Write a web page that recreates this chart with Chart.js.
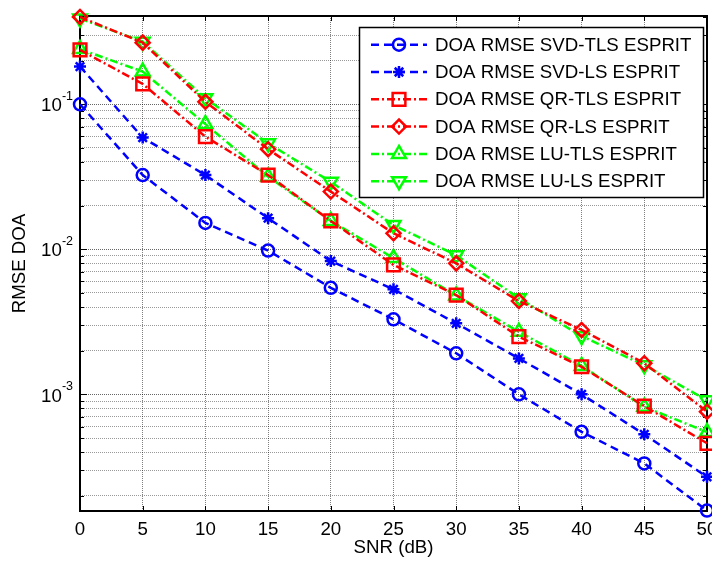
<!DOCTYPE html>
<html><head><meta charset="utf-8">
<script src="https://cdn.jsdelivr.net/npm/chart.js@4.4.1/dist/chart.umd.min.js"></script>
<style>html,body{margin:0;padding:0;background:#fff}</style>
</head><body>
<canvas id="c" width="712" height="562" style="display:block;width:712px;height:562px"></canvas>
<script>
const snr = [0, 5, 10, 15, 20, 25, 30, 35, 40, 45, 50];
const svdTls = [0.100, 0.0325, 0.0152, 0.0098, 0.00543, 0.00329, 0.00192, 0.00100, 0.000552, 0.000334, 0.000158];
const svdLs  = [0.182, 0.0589, 0.0325, 0.0164, 0.0083, 0.0053, 0.00309, 0.00177, 0.00100, 0.00053, 0.00027];
const qrTls  = [0.237, 0.138, 0.0598, 0.0325, 0.0157, 0.0078, 0.00484, 0.00250, 0.00155, 0.00083, 0.00046];
const qrLs   = [0.400, 0.266, 0.104, 0.049, 0.0250, 0.0129, 0.0080, 0.00440, 0.00278, 0.00164, 0.00076];
const luTls  = [0.240, 0.168, 0.073, 0.0317, 0.0157, 0.0087, 0.0048, 0.0027, 0.00157, 0.00082, 0.00055];
const luLs   = [0.390, 0.270, 0.110, 0.0538, 0.0292, 0.0147, 0.0091, 0.0046, 0.00252, 0.00159, 0.00091];
const seriesLabels = ['DOA RMSE SVD-TLS ESPRIT','DOA RMSE SVD-LS ESPRIT','DOA RMSE QR-TLS ESPRIT','DOA RMSE QR-LS ESPRIT','DOA RMSE LU-TLS ESPRIT','DOA RMSE LU-LS ESPRIT'];
const xTickValues = [0, 5, 10, 15, 20, 25, 30, 35, 40, 45, 50];
const xTickLabels = ['0', '5', '10', '15', '20', '25', '30', '35', '40', '45', '50'];
const yDecades = [-4, -3, -2, -1];
const yMin = 1.57e-4, yMax = 0.406;
const xLabel = 'SNR (dB)', yLabel = 'RMSE DOA';

const FONT = "'Liberation Sans', Arial, sans-serif";
const FS = 18.7;
const BLUE = '#0000ff', RED = '#ff0000', GREEN = '#00ff00';
const DASH = [8, 5], DASHDOT = [8, 3, 2, 3];

function ds(label, data, color, dash, style, radius, rot) {
  return {
    label, data: data.map((v, i) => ({x: snr[i], y: v})),
    borderColor: color, borderWidth: 2.5, borderDash: dash,
    pointStyle: style, pointRadius: radius, pointRotation: rot || 0,
    pointBorderColor: color, pointBackgroundColor: 'rgba(0,0,0,0)', pointBorderWidth: 2.5,
    pointHoverRadius: radius, fill: false, tension: 0, clip: false
  };
}

const datasets = [
  ds(seriesLabels[0], svdTls, BLUE, DASH, 'circle', 6),
  ds(seriesLabels[1], svdLs, BLUE, DASH, 'star', 6),
  ds(seriesLabels[2], qrTls, RED, DASHDOT, 'rect', 9),
  ds(seriesLabels[3], qrLs, RED, DASHDOT, 'rectRot', 7),
  ds(seriesLabels[4], luTls, GREEN, DASHDOT, 'triangle', 8),
  ds(seriesLabels[5], luLs, GREEN, DASHDOT, 'triangle', 8, 180)
];

const matlabPlugin = {
  id: 'matlab',
  beforeDatasetsDraw(chart) {
    const {ctx, chartArea: a, scales: {x, y}} = chart;
    ctx.save();
    ctx.strokeStyle = '#000';
    ctx.lineWidth = 1;
    ctx.beginPath();
    x.ticks.forEach(t => {
      const px = Math.round(x.getPixelForValue(t.value)) + 0.5;
      ctx.moveTo(px, a.top); ctx.lineTo(px, a.top + 5);
      ctx.moveTo(px, a.bottom); ctx.lineTo(px, a.bottom - 5);
    });
    y.ticks.forEach(t => {
      const py = Math.round(y.getPixelForValue(t.value)) + 0.5;
      const major = Math.abs(Math.log10(t.value) - Math.round(Math.log10(t.value))) < 1e-9;
      const len = major ? 7 : 4;
      ctx.moveTo(a.left, py); ctx.lineTo(a.left + len, py);
      ctx.moveTo(a.right, py); ctx.lineTo(a.right - len, py);
    });
    ctx.stroke();
    ctx.lineWidth = 2;
    ctx.strokeRect(a.left, a.top, a.right - a.left, a.bottom - a.top);
    ctx.fillStyle = '#000';
    ctx.font = FS + 'px ' + FONT;
    ctx.textAlign = 'center'; ctx.textBaseline = 'alphabetic';
    x.ticks.forEach((t, i) => {
      ctx.fillText(xTickLabels[i], x.getPixelForValue(t.value), a.bottom + 23.5);
    });
    yDecades.forEach(e => {
      const v = Math.pow(10, e);
      if (v < yMin || v > yMax) return;
      const py = y.getPixelForValue(v);
      const sup = String(e);
      ctx.font = '12.5px ' + FONT;
      const sw = ctx.measureText(sup).width;
      const right = a.left - 7;
      ctx.textAlign = 'left'; ctx.textBaseline = 'middle';
      ctx.fillText(sup, right - sw, py - 8);
      ctx.font = FS + 'px ' + FONT;
      ctx.textAlign = 'right';
      ctx.fillText('10', right - sw, py + 2);
    });
    ctx.restore();
  },
  afterDatasetsDraw(chart) {
    const {ctx} = chart;
    ctx.save();
    const bx = 359, by = 27, bw = 344, bh = 170;
    ctx.fillStyle = '#fff';
    ctx.fillRect(bx, by, bw, bh);
    ctx.strokeStyle = '#000'; ctx.lineWidth = 1.5;
    ctx.strokeRect(bx + 0.5, by + 0.5, bw, bh);
    chart.data.datasets.forEach((d, i) => {
      const cy = 44.7 + i * 27.3;
      ctx.strokeStyle = d.borderColor; ctx.lineWidth = 2.5;
      ctx.setLineDash(d.borderDash);
      ctx.beginPath(); ctx.moveTo(371, cy); ctx.lineTo(427, cy); ctx.stroke();
      ctx.setLineDash([]);
      ctx.fillStyle = 'rgba(0,0,0,0)';
      Chart.helpers.drawPoint(ctx, {pointStyle: d.pointStyle, radius: d.pointRadius, rotation: d.pointRotation, borderWidth: 2.5}, 399, cy);
      ctx.fillStyle = '#000';
      ctx.font = FS + 'px ' + FONT;
      ctx.textAlign = 'left'; ctx.textBaseline = 'middle';
      ctx.fillText(d.label, 435, cy + 1);
    });
    ctx.restore();
  }
};

new Chart(document.getElementById('c'), {
  type: 'line',
  data: {datasets},
  plugins: [matlabPlugin],
  options: {
    responsive: false, animation: false, devicePixelRatio: 1,
    layout: {autoPadding: false, padding: {top: 16, right: 5, left: 0, bottom: 0}},
    plugins: {legend: {display: false}, tooltip: {enabled: false}},
    scales: {
      x: {
        type: 'linear', min: 0, max: 50,
        afterBuildTicks: s => { s.ticks = xTickValues.map(v => ({value: v})); },
        afterFit: s => { s.height = 51; },
        ticks: {display: false},
        grid: {color: 'rgba(0,0,0,0.5)', lineWidth: 1, drawTicks: false},
        border: {display: false, dash: [1, 1]},
        title: {display: true, text: xLabel, font: {family: FONT, size: FS}, color: '#000', padding: {top: 0, bottom: 3}}
      },
      y: {
        type: 'logarithmic', min: yMin, max: yMax,
        afterBuildTicks: s => {
          const t = [];
          for (let e = -4; e <= -1; e++) for (let k = 1; k <= 9; k++) {
            const v = k * Math.pow(10, e);
            if (v >= yMin && v <= yMax) t.push({value: v});
          }
          s.ticks = t;
        },
        afterFit: s => { s.width = 80; },
        ticks: {display: false},
        grid: {
          color: c => {
            const v = c.tick && c.tick.value;
            const major = v && Math.abs(Math.log10(v) - Math.round(Math.log10(v))) < 1e-9;
            return major ? 'rgba(0,0,0,0.6)' : 'rgba(0,0,0,0.4)';
          },
          lineWidth: 1, drawTicks: false
        },
        border: {display: false, dash: [1, 1]},
        title: {display: true, text: yLabel, font: {family: FONT, size: FS}, color: '#000', padding: {top: 9, bottom: 0}}
      }
    }
  }
});
</script>
</body></html>
